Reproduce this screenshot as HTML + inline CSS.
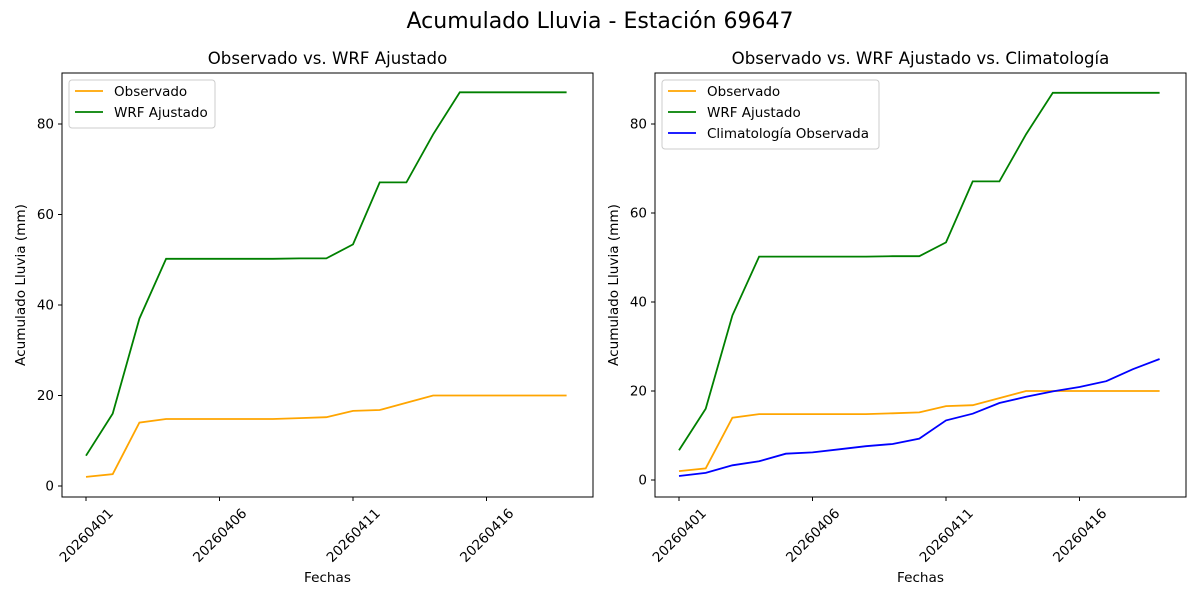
<!DOCTYPE html>
<html><head><meta charset="utf-8"><style>
body{margin:0;background:#fff;}
svg{font-family:"DejaVu Sans","Liberation Sans",sans-serif;}
</style></head><body>
<svg id="s" width="1200" height="600" xmlns="http://www.w3.org/2000/svg"></svg>
<script>
const s=document.getElementById('s');let h='';
h+='<rect width="1200" height="600" fill="#fff"/>';
h+='<text x="600" y="28" font-size="22" text-anchor="middle">Acumulado Lluvia - Estación 69647</text>';
const obs=[2,2.6,14,14.8,14.8,14.8,14.8,14.8,15,15.2,16.6,16.8,18.4,20,20,20,20,20,20];
const wrf=[6.7,16,37,50.2,50.2,50.2,50.2,50.2,50.3,50.3,53.4,67.1,67.1,77.7,87,87,87,87,87];
const cli=[0.9,1.6,3.3,4.2,5.9,6.2,6.9,7.6,8.1,9.3,13.4,14.9,17.3,18.7,19.9,20.9,22.2,24.9,27.2];
function panel(x0,x1,y0,y1,x1st,yz,yscale,title,series,legend){
 h+=`<text x="${(x0+x1)/2}" y="${y0-9}" font-size="16.6" text-anchor="middle">${title}</text>`;
 const dx=26.7;
 for(const [d,c] of series){
  h+=`<polyline fill="none" stroke="${c}" stroke-width="1.8" points="${d.map((v,i)=>(x1st+i*dx).toFixed(1)+','+(yz-v*yscale).toFixed(1)).join(' ')}"/>`;
 }
 h+=`<rect x="${x0}" y="${y0}" width="${x1-x0}" height="${y1-y0}" fill="none" stroke="#000" stroke-width="1"/>`;
 for(let v=0;v<=80;v+=20){const y=yz-v*yscale;
  h+=`<line x1="${x0-4}" x2="${x0}" y1="${y}" y2="${y}" stroke="#000"/><text x="${x0-8}" y="${y+4.5}" font-size="13.5" text-anchor="end">${v}</text>`;}
 ['20260401','20260406','20260411','20260416'].forEach((t,i)=>{const x=x1st+i*5*dx;
  h+=`<line x1="${x}" x2="${x}" y1="${y1}" y2="${y1+4}" stroke="#000"/><text transform="translate(${x},${y1+38}) rotate(-45)" font-size="13.6" text-anchor="middle" dy="5">${t}</text>`;});
 h+=`<text x="${(x0+x1)/2}" y="582" font-size="13.6" text-anchor="middle">Fechas</text>`;
 h+=`<text transform="translate(${x0-37},${(y0+y1)/2}) rotate(-90)" font-size="13.6" text-anchor="middle">Acumulado Lluvia (mm)</text>`;
 const lw=legend.w, lh=legend.items.length*21+6;
 h+=`<rect x="${x0+7}" y="80" width="${lw}" height="${lh}" rx="3" fill="#fff" stroke="#ccc"/>`;
 legend.items.forEach(([n,c],i)=>{const y=91+i*21;
  h+=`<line x1="${x0+13}" x2="${x0+41}" y1="${y}" y2="${y}" stroke="${c}" stroke-width="1.8"/><text x="${x0+52}" y="${y+5}" font-size="13.5">${n}</text>`;});
}
panel(62,593,73,497,86,486,4.525,'Observado vs. WRF Ajustado',[[obs,'orange'],[wrf,'green']],{w:146,items:[['Observado','orange'],['WRF Ajustado','green']]});
panel(655,1186,73,497,679,480,4.45,'Observado vs. WRF Ajustado vs. Climatología',[[obs,'orange'],[wrf,'green'],[cli,'blue']],{w:217,items:[['Observado','orange'],['WRF Ajustado','green'],['Climatología Observada','blue']]});
s.innerHTML=h;
</script>
</body></html>
